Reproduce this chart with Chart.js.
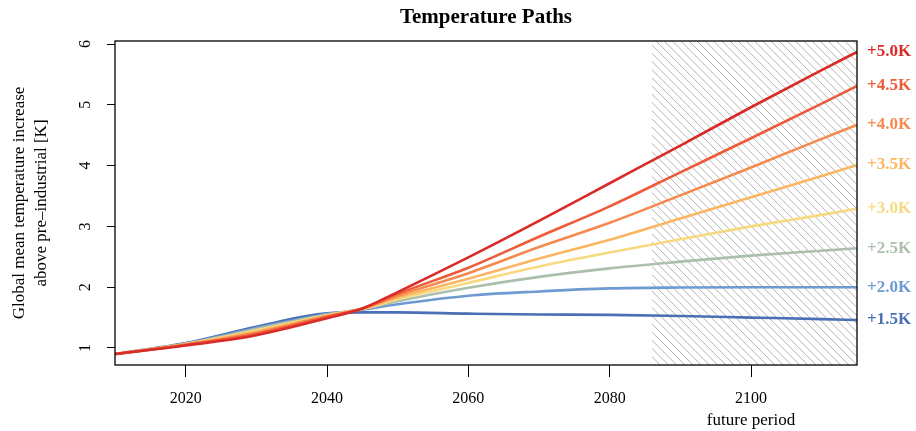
<!DOCTYPE html>
<html>
<head>
<meta charset="utf-8">
<script src="https://cdn.jsdelivr.net/npm/chart.js@4/dist/chart.umd.min.js"></script>
<style>
  html, body { margin: 0; padding: 0; background: #fff; }
  #wrap { width: 916px; height: 431px; }
</style>
</head>
<body>
<div id="wrap"><canvas id="tempChart" width="916" height="431"></canvas></div>
<script>
// anos e caminhos de temperatura
const years = [2010, 2020, 2030, 2040, 2045, 2050, 2060, 2070, 2080, 2090, 2100, 2110, 2115];
const path50 = [0.9, 1.04, 1.21, 1.49, 1.65, 1.92, 2.49, 3.09, 3.71, 4.33, 4.96, 5.57, 5.87];
const path45 = [0.9, 1.05, 1.23, 1.51, 1.65, 1.89, 2.32, 2.83, 3.33, 3.89, 4.45, 5.02, 5.31];
const path40 = [0.9, 1.055, 1.25, 1.52, 1.645, 1.86, 2.23, 2.66, 3.06, 3.51, 3.97, 4.44, 4.67];
const path35 = [0.9, 1.06, 1.27, 1.53, 1.645, 1.83, 2.14, 2.47, 2.78, 3.13, 3.48, 3.83, 4.01];
const path30 = [0.9, 1.065, 1.29, 1.54, 1.64, 1.80, 2.07, 2.34, 2.57, 2.79, 3.0, 3.19, 3.29];
const path25 = [0.9, 1.07, 1.31, 1.55, 1.64, 1.77, 1.99, 2.17, 2.31, 2.42, 2.52, 2.60, 2.64];
const path20 = [0.9, 1.075, 1.33, 1.56, 1.63, 1.72, 1.86, 1.93, 1.98, 1.995, 2.0, 2.0, 2.0];
const path15 = [0.9, 1.08, 1.35, 1.57, 1.585, 1.585, 1.565, 1.55, 1.545, 1.525, 1.50, 1.475, 1.46];

const pathLabels = ['+5.0K', '+4.5K', '+4.0K', '+3.5K', '+3.0K', '+2.5K', '+2.0K', '+1.5K'];
const pathValues = [path50, path45, path40, path35, path30, path25, path20, path15];
const pathColors = ['#D92B27', '#EE5B38', '#F6894D', '#FBB661', '#F8D97E', '#ABBFAD', '#6D9AD0', '#4B6EB4'];

const xTicks = [2020, 2040, 2060, 2080, 2100];
const yTicks = [1, 2, 3, 4, 5, 6];
const futureStart = 2086; // início do período futuro (hachurado)

const serif = "'Liberation Serif', 'DejaVu Serif', serif";

// hachura do período futuro
const hatchPlugin = {
  id: 'hatch',
  beforeDatasetsDraw(chart) {
    const { ctx, chartArea: a, scales } = chart;
    const x0 = scales.x.getPixelForValue(futureStart);
    const h = a.bottom - a.top;
    ctx.save();
    ctx.beginPath();
    ctx.rect(x0, a.top, a.right - x0, h);
    ctx.clip();
    ctx.strokeStyle = '#b2b2b2';
    ctx.lineWidth = 1;
    for (let c = x0 - h; c < a.right; c += 8.2) {
      ctx.beginPath();
      ctx.moveTo(c, a.top);
      ctx.lineTo(c + h, a.bottom);
      ctx.stroke();
    }
    ctx.restore();
  }
};

// moldura, títulos, rótulos à direita
const decorPlugin = {
  id: 'decor',
  afterDraw(chart) {
    const { ctx, chartArea: a, scales } = chart;
    ctx.save();
    ctx.strokeStyle = '#000';
    ctx.lineWidth = 1.3;
    ctx.strokeRect(a.left, a.top, a.right - a.left, a.bottom - a.top);

    // título
    ctx.fillStyle = '#000';
    ctx.textAlign = 'center';
    ctx.textBaseline = 'middle';
    ctx.font = 'bold 21px ' + serif;
    ctx.fillText('Temperature Paths', (a.left + a.right) / 2, 18);

    // rótulos do eixo y (rotacionados, estilo R)
    ctx.font = '16px ' + serif;
    yTicks.forEach(v => {
      const y = scales.y.getPixelForValue(v);
      ctx.save();
      ctx.translate(86, y);
      ctx.rotate(-Math.PI / 2);
      ctx.fillText(String(v), 0, 0);
      ctx.restore();
    });

    // título do eixo y
    const cy = (a.top + a.bottom) / 2;
    ctx.save();
    ctx.translate(20, cy);
    ctx.rotate(-Math.PI / 2);
    ctx.font = '17px ' + serif;
    ctx.fillText('Global mean temperature increase', 0, 0);
    ctx.fillText('above pre\u2013industrial [K]', 0, 22);
    ctx.restore();

    // período futuro
    ctx.font = '17px ' + serif;
    ctx.fillText('future period', scales.x.getPixelForValue(2100), 421);

    // rótulos dos caminhos
    ctx.font = 'bold 17px ' + serif;
    ctx.textAlign = 'left';
    pathLabels.forEach((lab, i) => {
      const vals = pathValues[i];
      const y = scales.y.getPixelForValue(vals[vals.length - 1]);
      ctx.fillStyle = pathColors[i];
      ctx.fillText(lab, a.right + 10, y);
    });
    ctx.restore();
  }
};

const datasets = pathLabels.map((lab, i) => ({
  label: lab,
  data: years.map((yr, j) => ({ x: yr, y: pathValues[i][j] })),
  borderColor: pathColors[i],
  borderWidth: 2.6,
  pointRadius: 0,
  fill: false,
  cubicInterpolationMode: 'monotone'
}));

new Chart(document.getElementById('tempChart').getContext('2d'), {
  type: 'line',
  data: { datasets },
  options: {
    responsive: false,
    animation: false,
    layout: { padding: { top: 41, right: 59, left: 0, bottom: 0 } },
    plugins: {
      legend: { display: false },
      title: { display: false },
      tooltip: { enabled: false }
    },
    scales: {
      x: {
        type: 'linear',
        min: 2010,
        max: 2115,
        afterBuildTicks: s => { s.ticks = xTicks.map(v => ({ value: v })); },
        afterFit: s => { s.height = 66; },
        border: { display: false },
        grid: { drawOnChartArea: false, color: '#000', tickLength: 12, lineWidth: 1 },
        ticks: {
          color: '#000',
          font: { family: serif, size: 16 },
          padding: 12,
          maxRotation: 0,
          callback: v => String(v)
        }
      },
      y: {
        type: 'linear',
        min: 0.72,
        max: 6.05,
        afterBuildTicks: s => { s.ticks = yTicks.map(v => ({ value: v })); },
        afterFit: s => { s.width = 115; },
        border: { display: false },
        grid: { drawOnChartArea: false, color: '#000', tickLength: 8, lineWidth: 1 },
        ticks: { display: false }
      }
    }
  },
  plugins: [hatchPlugin, decorPlugin]
});
</script>
</body>
</html>
